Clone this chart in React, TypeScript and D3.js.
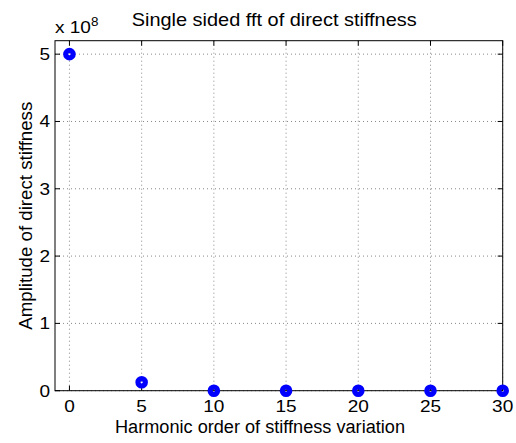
import React from "react";
import * as d3 from "d3";

const harmonicOrder = [0, 5, 10, 15, 20, 25, 30];
const amplitude = [5.0, 0.125, 0, 0, 0, 0, 0]; // x 1e8
const xTicks = [0, 5, 10, 15, 20, 25, 30];
const yTicks = [0, 1, 2, 3, 4, 5];

const W = 516, H = 443;
const left = 55, right = 502.7, top = 40.7, bottom = 390.7;
const font = "'Liberation Sans', Arial, Helvetica, sans-serif";
const fs = 17;
const sx = 1.12;

export default function App() {
  const x = d3.scaleLinear().domain([-1, 30]).range([left, right]);
  const y = d3.scaleLinear().domain([0, 5.2]).range([bottom, top]);
  const tickLen = 5;
  return (
    <svg width={W} height={H} style={{ position: "absolute", left: 0, top: 0, background: "#fff" }}>
      <rect x={0} y={0} width={W} height={H} fill="#fff" />
      {xTicks.map((t) => (
        <line key={"gx" + t} x1={x(t)} x2={x(t)} y1={top} y2={bottom} stroke="#888" strokeWidth={1} strokeDasharray="1 3" />
      ))}
      {yTicks.map((t) => (
        <line key={"gy" + t} x1={left} x2={right} y1={y(t)} y2={y(t)} stroke="#888" strokeWidth={1} strokeDasharray="1 3" />
      ))}
      {xTicks.map((t) => (
        <g key={"tx" + t}>
          <line x1={x(t)} x2={x(t)} y1={bottom} y2={bottom - tickLen} stroke="#000" />
          <line x1={x(t)} x2={x(t)} y1={top} y2={top + tickLen} stroke="#000" />
          <text transform={`translate(${x(t)},412.3) scale(${sx},1)`} textAnchor="middle" fontFamily={font} fontSize={fs}>{t}</text>
        </g>
      ))}
      {yTicks.map((t) => (
        <g key={"ty" + t}>
          <line x1={left} x2={left + tickLen} y1={y(t)} y2={y(t)} stroke="#000" />
          <line x1={right} x2={right - tickLen} y1={y(t)} y2={y(t)} stroke="#000" />
          <text transform={`translate(50,${y(t) + 6}) scale(${sx},1)`} textAnchor="end" fontFamily={font} fontSize={fs}>{t}</text>
        </g>
      ))}
      <rect x={left} y={top} width={right - left} height={bottom - top} fill="none" stroke="#000" strokeWidth={1} />
      {harmonicOrder.map((h, i) => (
        <circle key={"p" + i} cx={x(h)} cy={y(amplitude[i])} r={3.7} fill="none" stroke="#0000ff" strokeWidth={5.2} />
      ))}
      <text x={131.7} y={25.5} textLength={285} lengthAdjust="spacingAndGlyphs" fontFamily={font} fontSize={19}>Single sided fft of direct stiffness</text>
      <text transform={`translate(55,33) scale(${sx},1)`} fontFamily={font} fontSize={fs}>x 10<tspan dy={-7} fontSize={12}>8</tspan></text>
      <text x={115} y={433} textLength={290} lengthAdjust="spacingAndGlyphs" fontFamily={font} fontSize={18}>Harmonic order of stiffness variation</text>
      <text transform={`translate(31.5,${(top + bottom) / 2}) rotate(-90)`} textAnchor="middle" textLength={228} lengthAdjust="spacingAndGlyphs" fontFamily={font} fontSize={18}>Amplitude of direct stiffness</text>
    </svg>
  );
}
